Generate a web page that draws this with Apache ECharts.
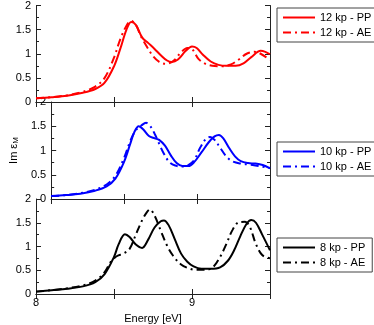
<!DOCTYPE html>
<html>
<head>
<meta charset="utf-8">
<script src="https://cdn.jsdelivr.net/npm/echarts@6/dist/echarts.min.js"></script>
<style>
  html, body { margin: 0; padding: 0; background: #fff; }
  #chart { width: 374px; height: 325px; }
</style>
</head>
<body>
<div id="chart"></div>
<script>
// energies [eV] and Im eps_M values
var pp12E = [8.00, 8.10, 8.20, 8.30, 8.38, 8.44, 8.50, 8.54, 8.58, 8.61, 8.64, 8.68, 8.72, 8.76, 8.80, 8.84, 8.87, 8.91, 8.96, 9.00, 9.03, 9.07, 9.12, 9.17, 9.22, 9.28, 9.33, 9.38, 9.44, 9.47, 9.50];
var pp12V = [0.08, 0.10, 0.13, 0.19, 0.27, 0.40, 0.74, 1.10, 1.50, 1.66, 1.60, 1.34, 1.22, 1.10, 0.97, 0.86, 0.83, 0.88, 1.06, 1.15, 1.12, 0.98, 0.84, 0.77, 0.75, 0.75, 0.80, 0.93, 1.06, 1.04, 0.99];
var ae12E = [8.00, 8.10, 8.20, 8.30, 8.38, 8.44, 8.50, 8.54, 8.58, 8.61, 8.64, 8.67, 8.71, 8.75, 8.79, 8.83, 8.88, 8.93, 8.97, 9.00, 9.04, 9.08, 9.13, 9.19, 9.25, 9.30, 9.35, 9.40, 9.44, 9.50];
var ae12V = [0.08, 0.10, 0.14, 0.21, 0.32, 0.50, 0.92, 1.30, 1.58, 1.68, 1.60, 1.38, 1.15, 0.95, 0.83, 0.79, 0.85, 1.03, 1.12, 1.10, 0.90, 0.80, 0.75, 0.74, 0.78, 0.88, 1.00, 1.04, 1.00, 0.87];

var pp10E = [8.00, 8.10, 8.20, 8.30, 8.38, 8.44, 8.50, 8.54, 8.57, 8.60, 8.63, 8.67, 8.71, 8.74, 8.78, 8.82, 8.86, 8.90, 8.94, 8.98, 9.03, 9.08, 9.12, 9.15, 9.18, 9.22, 9.26, 9.30, 9.35, 9.40, 9.45, 9.50];
var pp10V = [0.06, 0.08, 0.11, 0.17, 0.26, 0.42, 0.77, 1.12, 1.38, 1.50, 1.44, 1.30, 1.25, 1.22, 1.10, 0.90, 0.74, 0.68, 0.68, 0.76, 0.96, 1.17, 1.29, 1.32, 1.25, 1.05, 0.88, 0.78, 0.74, 0.73, 0.70, 0.63];
var ae10E = [8.00, 8.10, 8.20, 8.30, 8.38, 8.44, 8.50, 8.54, 8.58, 8.62, 8.65, 8.68, 8.71, 8.74, 8.77, 8.81, 8.85, 8.90, 8.94, 8.98, 9.02, 9.06, 9.09, 9.12, 9.16, 9.20, 9.24, 9.30, 9.36, 9.42, 9.50];
var ae10V = [0.06, 0.08, 0.12, 0.19, 0.30, 0.48, 0.85, 1.18, 1.42, 1.52, 1.57, 1.50, 1.34, 1.14, 0.95, 0.76, 0.69, 0.67, 0.70, 0.80, 1.05, 1.24, 1.28, 1.22, 1.05, 0.88, 0.78, 0.73, 0.71, 0.68, 0.64];

var pp8E = [8.00, 8.10, 8.20, 8.30, 8.38, 8.44, 8.50, 8.53, 8.57, 8.60, 8.64, 8.68, 8.72, 8.76, 8.80, 8.82, 8.85, 8.89, 8.93, 8.97, 9.01, 9.06, 9.12, 9.18, 9.23, 9.27, 9.31, 9.35, 9.38, 9.41, 9.45, 9.50];
var pp8V = [0.05, 0.08, 0.11, 0.16, 0.25, 0.42, 0.78, 1.05, 1.26, 1.20, 1.04, 0.97, 1.15, 1.40, 1.53, 1.55, 1.45, 1.15, 0.85, 0.68, 0.58, 0.53, 0.53, 0.56, 0.70, 0.92, 1.22, 1.48, 1.56, 1.50, 1.25, 0.92];
var ae8E = [8.00, 8.10, 8.20, 8.30, 8.38, 8.44, 8.48, 8.52, 8.56, 8.60, 8.64, 8.68, 8.71, 8.73, 8.76, 8.80, 8.84, 8.88, 8.93, 8.98, 9.02, 9.08, 9.13, 9.18, 9.22, 9.26, 9.30, 9.34, 9.37, 9.41, 9.45, 9.50];
var ae8V = [0.05, 0.08, 0.12, 0.18, 0.28, 0.46, 0.68, 0.80, 0.85, 0.95, 1.25, 1.55, 1.72, 1.78, 1.65, 1.33, 1.02, 0.80, 0.62, 0.54, 0.51, 0.51, 0.55, 0.78, 1.05, 1.35, 1.51, 1.52, 1.42, 1.05, 0.82, 0.75];

var yTicks = [0, 0.5, 1, 1.5, 2];
var xLabels = [8, 9];

var panels = [
  {pp: '12 kp - PP', ae: '12 kp - AE', color: '#ff0000', ppE: pp12E, ppV: pp12V, aeE: ae12E, aeV: ae12V, top: 5, legendTop: 8},
  {pp: '10 kp - PP', ae: '10 kp - AE', color: '#0000ff', ppE: pp10E, ppV: pp10V, aeE: ae10E, aeV: ae10V, top: 102, legendTop: 142},
  {pp: '8 kp - PP', ae: '8 kp - AE', color: '#000000', ppE: pp8E, ppV: pp8V, aeE: ae8E, aeV: ae8V, top: 199, legendTop: 238}
];

var font = 'Liberation Sans, Arial, sans-serif';
var frame = {lineStyle: {color: '#222', width: 1}};
var dashDot = [8, 4, 2, 4];

function pairs(e, v) {
  return e.map(function (x, i) { return [x, v[i]]; });
}

var grid = [], xAxis = [], yAxis = [], series = [], legend = [];

panels.forEach(function (p, i) {
  var last = i === panels.length - 1;
  grid.push({left: 36, top: p.top, width: 234, height: 97});
  // bottom and top x axes
  xAxis.push({
    type: 'value', gridIndex: i, min: 8, max: 9.5, interval: 0.5,
    axisLine: frame, axisTick: {inside: true, length: 5, lineStyle: {color: '#222'}},
    splitLine: {show: false},
    axisLabel: {
      show: last, color: '#000', fontFamily: font, fontSize: 11, margin: 3,
      formatter: function (v) { return xLabels.indexOf(v) >= 0 ? String(v) : ''; }
    },
    name: last ? 'Energy [eV]' : '', nameLocation: 'middle', nameGap: 19,
    nameTextStyle: {color: '#000', fontFamily: font, fontSize: 11}
  });
  xAxis.push({
    type: 'value', gridIndex: i, position: 'top', min: 8, max: 9.5, interval: 0.5,
    axisLine: frame, axisTick: {inside: true, length: 5, lineStyle: {color: '#222'}},
    splitLine: {show: false}, axisLabel: {show: false}
  });
  // left and right y axes
  yAxis.push({
    type: 'value', gridIndex: i, min: 0, max: 2, interval: 0.5,
    axisLine: frame, axisTick: {inside: true, length: 5, lineStyle: {color: '#222'}},
    minorTick: {show: true, splitNumber: 2, length: 3, lineStyle: {color: '#222'}},
    splitLine: {show: false},
    axisLabel: {
      color: '#000', fontFamily: font, fontSize: 11, margin: 5,
      formatter: function (v) { return yTicks.indexOf(v) >= 0 ? String(v) : ''; }
    },
    name: i === 1 ? '{a|Im ε}{b|M}' : '', nameLocation: 'middle', nameGap: 25,
    nameTextStyle: {
      color: '#000', fontFamily: font, fontSize: 11,
      rich: {a: {fontSize: 11, fontFamily: font, color: '#000'}, b: {fontSize: 8, fontFamily: font, color: '#000', padding: [5, 0, 0, 0]}}
    }
  });
  yAxis.push({
    type: 'value', gridIndex: i, position: 'right', min: 0, max: 2, interval: 0.5,
    axisLine: frame, axisTick: {inside: true, length: 5, lineStyle: {color: '#222'}},
    minorTick: {show: true, splitNumber: 2, length: 3, lineStyle: {color: '#222'}},
    splitLine: {show: false}, axisLabel: {show: false}
  });

  series.push({
    name: p.pp, type: 'line', xAxisIndex: 2 * i, yAxisIndex: 2 * i,
    data: pairs(p.ppE, p.ppV), smooth: 0.35, symbol: 'none',
    lineStyle: {color: p.color, width: 2}, itemStyle: {color: p.color}
  });
  series.push({
    name: p.ae, type: 'line', xAxisIndex: 2 * i, yAxisIndex: 2 * i,
    data: pairs(p.aeE, p.aeV), smooth: 0.35, symbol: 'none',
    lineStyle: {color: p.color, width: 2, type: dashDot}, itemStyle: {color: p.color}
  });

  legend.push({
    data: [p.pp, p.ae], orient: 'vertical', left: 277, top: p.legendTop,
    backgroundColor: '#fff', borderColor: '#444', borderWidth: 1,
    padding: [4, 7, 4, 5], itemGap: 4, itemWidth: 32, itemHeight: 10,
    itemStyle: {opacity: 0},
    textStyle: {color: '#000', fontFamily: font, fontSize: 11}
  });
});

var chart = echarts.init(document.getElementById('chart'));
chart.setOption({
  animation: false,
  backgroundColor: '#fff',
  grid: grid,
  xAxis: xAxis,
  yAxis: yAxis,
  legend: legend,
  series: series
});
</script>
</body>
</html>
